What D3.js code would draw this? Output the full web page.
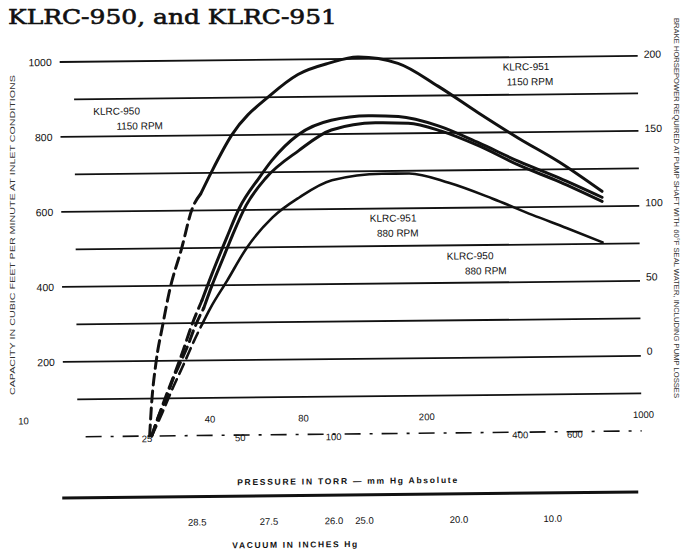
<!DOCTYPE html>
<html><head><meta charset="utf-8">
<script src="https://cdn.jsdelivr.net/npm/d3@7/dist/d3.min.js"></script>
<style>body{margin:0;background:#fff}svg{display:block}</style>
</head><body>
<svg id="c" width="689" height="550"></svg>
<script>
// ---------- data (pressure in torr, capacity in CFM) ----------
const title = "KLRC-950, and KLRC-951";
const capTicks = [1000, 800, 600, 400, 200];
const gridValues = [1000, 900, 800, 700, 600, 500, 400, 300, 200, 100];
const bhpTicks = [200, 150, 100, 50, 0];
const pressureRow1 = [10, 40, 80, 200, 1000];
const pressureRow2 = [25, 50, 100, 400, 600];
const vacuumTicks = [28.5, 27.5, 26, 25, 20, 10];

const klrc950_1150_dash = [[25.5,0],[25.9,80],[26.9,197],[28.3,293],[30,392],[32.8,499],[35.6,605],[38,645]];
const klrc950_1150 = [[38,645],[41.3,704],[48,800],[64.5,907],[78.9,960],[100,990],[123,1005],[166,987],[223,925],[300,853],[404,784],[544,720],[748,640]];
const klrc951_1150_dash = [[25.9,0],[27.5,60],[29,110],[31,170],[33,230],[35,290],[38,360]];
const klrc951_1150 = [[38,360],[41,430],[45.8,525],[50.5,605],[58.6,685],[64.5,731],[78.9,800],[100.7,837],[132.7,848],[165.8,845],[223,819],[300,773],[404,722],[544,677],[748,624]];
const klrc951_880_dash = [[25.9,0],[27.3,53],[28.9,99],[30.5,152],[32.3,197],[34.1,240],[36,290],[38.5,340]];
const klrc951_880 = [[38.5,340],[41,400],[44.5,470],[47.9,533],[53.2,613],[61.7,685],[78.9,757],[100.7,811],[139.7,829],[178.5,827],[228,805],[300,765],[404,712],[544,667],[748,613]];
const klrc950_880_dash = [[25.9,0],[28,60],[30.5,130],[33,190],[35.6,250],[38.1,299]];
const klrc950_880 = [[38.1,299],[40.4,339],[45.8,411],[53.2,499],[64.5,579],[78.9,632],[100.7,677],[146,693],[178.5,693],[240,667],[330.6,624],[445,579],[573,543],[748,504]];

const curveLabels = [
  {name:"KLRC-950", rpm:"1150 RPM", at:[17.2, 858], off:23},
  {name:"KLRC-951", rpm:"1150 RPM", at:[361, 965], off:4},
  {name:"KLRC-951", rpm:"880 RPM", at:[133, 565], off:7},
  {name:"KLRC-950", rpm:"880 RPM", at:[235, 462], off:18}
];

// ---------- chart ----------
const svg = d3.select("#c");
const x = d3.scaleLog().domain([10, 1000]).range([22, 642]);
const y = d3.scaleLinear().domain([0, 1000]).range([434, 59]);
const yR = d3.scaleLinear().domain([0, 200]).range([354, 57]);
const ink = "#111";

svg.append("text").attr("x", 8).attr("y", 24)
  .attr("font-family", "DejaVu Serif").attr("font-size", 21)
  .attr("stroke", ink).attr("stroke-width", 0.6)
  .attr("textLength", 329).attr("lengthAdjust", "spacingAndGlyphs")
  .attr("fill", ink).text(title);

const g = svg.append("g").attr("transform", "rotate(-0.6,345,280)");

// grid lines
g.selectAll("line.grid").data(gridValues).join("line")
  .attr("x1", d => capTicks.includes(d) ? 62 : 76).attr("x2", 640)
  .attr("y1", d => y(d)).attr("y2", d => y(d))
  .attr("stroke", ink).attr("stroke-width", 1.8);
g.append("line").attr("x1", 84).attr("x2", 640).attr("y1", y(0)).attr("y2", y(0))
  .attr("stroke", ink).attr("stroke-width", 1.6).attr("stroke-dasharray", "16,9,3,9");

// left ticks
g.selectAll("text.cap").data(capTicks).join("text")
  .attr("x", 54).attr("y", d => y(d) + 4).attr("text-anchor", "end")
  .attr("font-family", "Liberation Sans").attr("font-size", 10.5).attr("fill", ink)
  .text(d => d);
// right ticks
g.selectAll("text.bhp").data(bhpTicks).join("text")
  .attr("x", 646).attr("y", d => yR(d) + 4)
  .attr("font-family", "Liberation Sans").attr("font-size", 10.5).attr("fill", ink)
  .text(d => d);

// pressure ticks (two staggered rows)
g.selectAll("text.p1").data(pressureRow1).join("text")
  .attr("x", d => x(d)).attr("y", 421).attr("text-anchor", "middle")
  .attr("font-family", "Liberation Sans").attr("font-size", 9.5).attr("fill", ink).text(d => d);
g.selectAll("text.p2").data(pressureRow2).join("text")
  .attr("x", d => x(d)).attr("y", 440).attr("text-anchor", "middle")
  .attr("font-family", "Liberation Sans").attr("font-size", 9.5).attr("fill", ink).text(d => d);
g.append("text").attr("x", 345).attr("y", 484).attr("text-anchor", "middle")
  .attr("font-family", "Liberation Sans").attr("font-size", 8.5).attr("font-weight", 700)
  .attr("textLength", 220).attr("lengthAdjust", "spacing")
  .attr("fill", ink).text("PRESSURE IN TORR — mm Hg Absolute");

// separator / vacuum axis
g.append("line").attr("x1", 60).attr("x2", 636).attr("y1", 495).attr("y2", 495)
  .attr("stroke", ink).attr("stroke-width", 3);
const vacToTorr = v => (29.92 - v) * 25.4;
g.selectAll("text.vac").data(vacuumTicks).join("text")
  .attr("x", d => x(vacToTorr(d))).attr("y", 524).attr("text-anchor", "middle")
  .attr("font-family", "Liberation Sans").attr("font-size", 9.5).attr("fill", ink)
  .text(d => d.toFixed(1));
g.append("text").attr("x", 292).attr("y", 547).attr("text-anchor", "middle")
  .attr("font-family", "Liberation Sans").attr("font-size", 8.5).attr("font-weight", 700)
  .attr("textLength", 125).attr("lengthAdjust", "spacing")
  .attr("fill", ink).text("VACUUM IN INCHES Hg");

// axis titles
svg.append("text").attr("transform", "translate(15,235) rotate(-90)").attr("text-anchor", "middle")
  .attr("font-family", "Liberation Sans").attr("font-size", 8).attr("fill", "#333")
  .attr("textLength", 320).attr("lengthAdjust", "spacingAndGlyphs")
  .text("CAPACITY IN CUBIC FEET PER MINUTE AT INLET CONDITIONS");
svg.append("text").attr("transform", "translate(674,208) rotate(90)").attr("text-anchor", "middle")
  .attr("font-family", "Liberation Sans").attr("font-size", 8).attr("fill", "#333")
  .attr("textLength", 380).attr("lengthAdjust", "spacingAndGlyphs")
  .text("BRAKE HORSEPOWER REQUIRED AT PUMP SHAFT WITH 60°F SEAL WATER, INCLUDING PUMP LOSSES");

// curves
const line = d3.line().x(d => x(d[0])).y(d => y(d[1])).curve(d3.curveMonotoneX);
const series = [
  [klrc950_1150_dash, true, 3], [klrc950_1150, false, 3],
  [klrc951_1150_dash, true, 3], [klrc951_1150, false, 3],
  [klrc951_880_dash, true, 3], [klrc951_880, false, 3],
  [klrc950_880_dash, true, 2.6], [klrc950_880, false, 2.6]
];
series.forEach(([pts, dashed, w]) => {
  g.append("path").attr("d", line(pts)).attr("fill", "none")
    .attr("stroke", ink).attr("stroke-width", w).attr("stroke-linecap", "round")
    .attr("stroke-dasharray", dashed ? "11,6" : null);
});

// curve labels
curveLabels.forEach(l => {
  const t = g.append("text").attr("font-family", "Liberation Sans").attr("font-size", 10).attr("fill", ink);
  t.append("tspan").attr("x", x(l.at[0])).attr("y", y(l.at[1])).text(l.name);
  t.append("tspan").attr("x", x(l.at[0]) + l.off).attr("dy", 15).text(l.rpm);
});
</script>
</body></html>
